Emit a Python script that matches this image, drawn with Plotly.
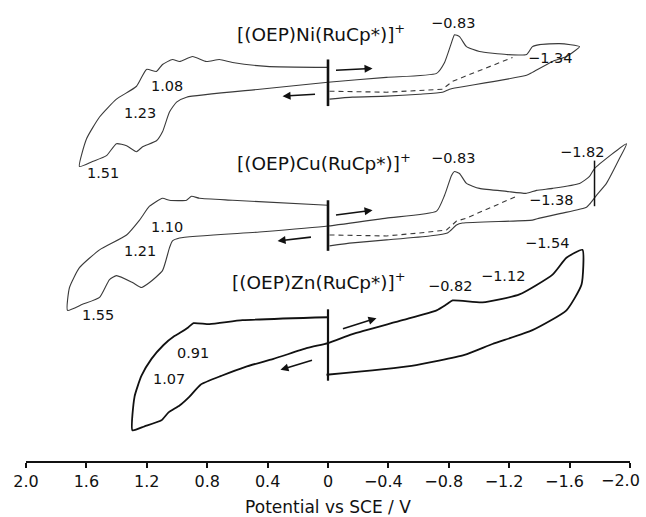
import plotly.graph_objects as go

# ---------------- data (potential E / V, current I / arb. units) ----------------
ni_E = [0.0, 0.407, 0.632, 0.719, 0.805, 0.897, 0.983, 1.030, 1.096, 1.136, 1.202, 1.268, 1.401, 1.513, 1.599, 1.646,
        1.560, 1.467, 1.401, 1.334, 1.268, 1.228, 1.136, 1.096, 1.050, 1.003, 0.937, 0.452, 0.0,
        -0.387, -0.719, -0.772, -0.818, -0.838, -0.871, -0.917, -1.003, -1.182, -1.315, -1.354, -1.401, -1.533, -1.666,
        -1.579, -1.487, -1.354, -1.315, -0.871, -0.805, -0.758, -0.606, -0.387, -0.162, -0.01]
ni_I = [39.5, 39.6, 40.0, 40.3, 40.1, 40.6, 40.1, 40.3, 39.8, 39.1, 39.3, 37.6, 36.3, 34.5, 32.3, 29.5,
        30.0, 30.6, 31.8, 31.6, 31.0, 31.5, 32.1, 33.0, 35.0, 36.0, 36.5, 37.3, 38.0,
        38.5, 38.9, 40.0, 42.0, 42.8, 42.6, 41.6, 41.1, 40.8, 40.8, 41.6, 41.8, 41.9, 41.6,
        40.6, 40.1, 39.0, 38.7, 37.5, 37.3, 37.0, 36.8, 36.6, 36.5, 36.3]
ni_dash_E = [-0.01, -0.387, -0.758, -0.825, -1.222]
ni_dash_I = [37.1, 37.0, 37.3, 38.1, 40.5]

cu_E = [0.0, 0.632, 0.851, 0.904, 0.937, 1.050, 1.096, 1.182, 1.248, 1.334, 1.513, 1.646, 1.712, 1.725,
        1.626, 1.513, 1.447, 1.401, 1.295, 1.235, 1.182, 1.096, 1.050, 1.030, 0.983, 0.454, 0.0,
        -0.387, -0.719, -0.772, -0.818, -0.838, -0.871, -0.917, -1.003, -1.182, -1.315, -1.381, -1.487, -1.666,
        -1.732, -1.765, -1.977,
        -1.930, -1.844, -1.778, -1.732, -1.712, -1.553, -1.401, -1.354, -0.891, -0.851, -0.791, -0.672, -0.387,
        -0.162, -0.01]
cu_I = [25.6, 26.1, 26.3, 26.5, 26.1, 26.1, 26.3, 25.5, 24.1, 22.6, 21.1, 19.3, 17.3, 15.0,
        15.6, 16.3, 18.1, 18.5, 17.8, 17.3, 17.8, 19.0, 21.3, 22.0, 22.3, 22.9, 23.5,
        24.3, 25.0, 26.6, 28.6, 29.0, 28.8, 27.8, 27.3, 27.0, 26.8, 27.1, 27.3, 27.8,
        28.5, 29.3, 31.8,
        30.3, 27.8, 26.6, 25.7, 25.4, 24.8, 24.3, 24.1, 23.8, 23.6, 22.8, 22.5, 22.1,
        21.8, 21.5]
cu_dash_E = [-0.01, -0.387, -0.606, -0.785, -0.851, -0.917, -1.248]
cu_dash_I = [22.6, 22.5, 22.8, 23.1, 24.0, 24.3, 26.5]

zn_E = [0.0, 0.566, 0.785, 0.891, 0.924, 0.983, 1.017, 1.089, 1.169, 1.235, 1.281, 1.295,
        1.215, 1.103, 1.056, 0.983, 0.917, 0.844, 0.705, 0.546, 0.361, 0.136, 0.0,
        -0.162, -0.493, -0.719, -0.785, -0.825, -1.023, -1.268, -1.487, -1.579, -1.685,
        -1.679, -1.579, -1.354, -1.089, -0.904, -0.553, 0.01]
zn_I = [14.3, 14.0, 13.6, 13.7, 13.3, 12.7, 12.4, 11.5, 10.1, 8.4, 6.3, 2.9,
        3.3, 3.9, 4.7, 5.4, 6.3, 7.5, 8.4, 9.3, 10.1, 11.2, 11.7,
        12.6, 14.0, 15.0, 15.6, 16.0, 15.8, 16.6, 18.6, 20.3, 21.1,
        17.6, 15.0, 13.0, 11.6, 10.5, 9.4, 8.5]

# start markers (vertical bars): (E, I_low, I_high, width)
bars = [(0.0, 35.6, 40.3, 2.6), (0.0, 21.0, 26.1, 2.6), (-1.765, 25.5, 30.1, 1.5), (0.0, 7.9, 15.1, 2.2)]

# scan-direction arrows: (E_tail, I_tail, E_head, I_head)
arrows = [(-0.043, 39.2, -0.295, 39.4), (0.076, 36.8, 0.301, 36.6),
          (-0.043, 24.6, -0.295, 25.1), (0.103, 22.4, 0.334, 22.0),
          (-0.089, 13.1, -0.321, 14.2), (0.096, 10.0, 0.315, 9.0)]

titles = [("[(OEP)Ni(RuCp*)]<sup>+</sup>", 0.619, 43.0),
          ("[(OEP)Cu(RuCp*)]<sup>+</sup>", 0.619, 30.0),
          ("[(OEP)Zn(RuCp*)]<sup>+</sup>", 0.652, 18.0)]

peak_labels = [("\u22120.83", -0.825, 44.0), ("\u22121.34", -1.467, 40.5), ("1.08", 1.069, 37.6),
               ("1.23", 1.242, 34.9), ("1.51", 1.487, 28.9),
               ("\u22120.83", -0.825, 30.4), ("\u22121.82", -1.679, 31.0), ("\u22121.38", -1.480, 26.1),
               ("1.10", 1.069, 23.4), ("1.21", 1.248, 21.0), ("1.55", 1.520, 14.5),
               ("\u22120.82", -0.811, 17.5), ("\u22121.12", -1.162, 18.5), ("\u22121.54", -1.447, 21.8),
               ("0.91", 0.897, 10.7), ("1.07", 1.050, 8.1)]

tick_vals = [2.0, 1.6, 1.2, 0.8, 0.4, 0.0, -0.4, -0.8, -1.2, -1.6, -2.0]
tick_text = ["2.0", "1.6", "1.2", "0.8", "0.4", "0", "\u22120.4", "\u22120.8", "\u22121.2", "\u22121.6", "\u22122.0"]

FONT = "DejaVu Sans, Liberation Sans, Arial, sans-serif"

# negative labels: digits centred on the tick, minus sign hanging to the left.
# The last label sits at the page edge, so it is drawn as an annotation anchored at its tick.
tick_text_shown = [t + "\u2007" if t.startswith("\u2212") else t for t in tick_text]
edge_label = tick_text_shown[-1].strip()
edge_value = tick_vals[-1]
tick_text_shown[-1] = ""

# ---------------- figure ----------------
fig = go.Figure()
thin = dict(color="#3a3a3a", width=1.1, shape="spline", smoothing=0.5)
dashed = dict(color="#3a3a3a", width=1.1, dash="5px,4px")
fig.add_trace(go.Scatter(x=ni_E, y=ni_I, mode="lines", line=thin))
fig.add_trace(go.Scatter(x=ni_dash_E, y=ni_dash_I, mode="lines", line=dashed))
fig.add_trace(go.Scatter(x=cu_E, y=cu_I, mode="lines", line=thin))
fig.add_trace(go.Scatter(x=cu_dash_E, y=cu_dash_I, mode="lines", line=dashed))
fig.add_trace(go.Scatter(x=zn_E, y=zn_I, mode="lines",
                         line=dict(color="#111111", width=1.8, shape="spline", smoothing=0.5)))
for e, lo, hi, w in bars:
    fig.add_trace(go.Scatter(x=[e, e], y=[lo, hi], mode="lines", line=dict(color="#111111", width=w)))

for ex, iy, hx, hy in arrows:
    fig.add_annotation(x=hx, y=hy, ax=ex, ay=iy, xref="x", yref="y", axref="x", ayref="y",
                       showarrow=True, arrowhead=2, arrowsize=1.0, arrowwidth=1.6, arrowcolor="#111111", text="")

for t, e, i in titles:
    fig.add_annotation(x=e, y=i, text=t, showarrow=False, xanchor="left", yanchor="middle",
                       font=dict(family=FONT, size=18.5, color="#111111"))
for t, e, i in peak_labels:
    fig.add_annotation(x=e, y=i, text=t, showarrow=False, xanchor="center", yanchor="middle",
                       font=dict(family=FONT, size=14.5, color="#111111"))

fig.add_annotation(x=edge_value, y=0, xref="x", yref="paper", text=edge_label, showarrow=False,
                   xanchor="right", yanchor="middle", xshift=12, yshift=-19,
                   font=dict(family=FONT, size=16, color="#111111"))

fig.update_layout(
    width=646, height=517, margin=dict(l=26, r=16, t=0, b=56),
    paper_bgcolor="white", plot_bgcolor="white", showlegend=False,
    xaxis=dict(range=[2.0, -2.0], tickmode="array", tickvals=tick_vals, ticktext=tick_text_shown,
               showline=True, linecolor="#111111", linewidth=1.5, ticks="outside", ticklen=5,
               tickwidth=1.5, tickcolor="#111111", showgrid=False, zeroline=False, automargin=False,
               ticklabeloverflow="allow",
               tickfont=dict(family=FONT, size=16, color="#111111"),
               title=dict(text="Potential vs SCE / V", standoff=16,
                          font=dict(family=FONT, size=17, color="#111111"))),
    yaxis=dict(range=[-0.2, 46.3], visible=False, showgrid=False, zeroline=False, automargin=False),
)
fig.write_html("out.html")
